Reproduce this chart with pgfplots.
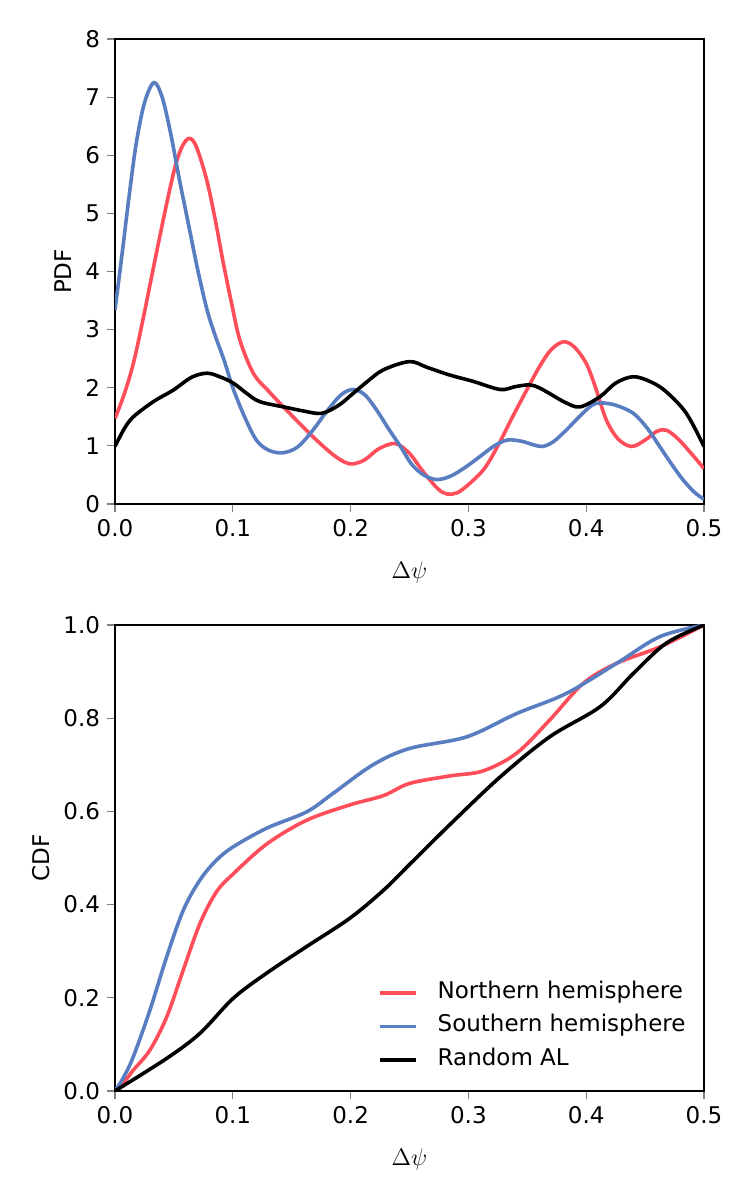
\documentclass[border=0pt]{standalone}
\usepackage{fontspec}
\setmainfont{DejaVu Sans}
\usepackage{pgfplots}
\pgfplotsset{compat=1.18}

\definecolor{nred}{RGB}{255,77,90}
\definecolor{sblue}{RGB}{88,125,192}

\pgfplotsset{
  kde/.style={
    scale only axis,
    width=294.5bp,
    xmin=0, xmax=0.5,
    xtick={0,0.1,0.2,0.3,0.4,0.5},
    xticklabels={0.0,0.1,0.2,0.3,0.4,0.5},
    tick align=outside,
    xtick pos=bottom, ytick pos=left,
    major tick length=4bp,
    major tick style={gray, line width=0.6bp},
    axis line style={black, line width=0.8bp},
    /pgf/number format/assume math mode=true,
    tick label style={font=\fontsize{11.5bp}{13.5bp}\selectfont},
    label style={font=\fontsize{11.5bp}{13.5bp}\selectfont},
    xlabel={$\Delta\psi$},
    xlabel style={font=\fontsize{12.5bp}{14bp}\selectfont, yshift=-6bp},
    every axis plot/.append style={line width=1.8bp, smooth, tension=0.55, mark=none},
  },
}

\begin{document}
\begin{tikzpicture}

% probability density of the phase offset
\begin{axis}[kde,
  at={(57.5bp,348bp)}, anchor=south west,
  height=232.5bp,
  ymin=0, ymax=8,
  ytick={0,1,2,3,4,5,6,7,8},
  ylabel={PDF},
]
\addplot[nred] coordinates {
(0,1.47) (0.008,1.9) (0.0156,2.42) (0.023,3.1) (0.030,3.80) (0.037,4.5)
(0.044,5.18) (0.051,5.8) (0.057,6.15) (0.063,6.29) (0.069,6.15) (0.0778,5.58)
(0.085,4.9) (0.092,4.14) (0.099,3.45) (0.106,2.82) (0.1174,2.25) (0.130,1.95)
(0.143,1.67) (0.157,1.38) (0.171,1.10) (0.185,0.85) (0.195,0.72) (0.202,0.69)
(0.212,0.76) (0.224,0.95) (0.238,1.04) (0.250,0.87) (0.260,0.6) (0.270,0.35)
(0.278,0.2) (0.286,0.17) (0.295,0.25) (0.3126,0.585) (0.325,1.0) (0.3375,1.5)
(0.3495,1.96) (0.360,2.35) (0.370,2.65) (0.3806,2.79) (0.390,2.7) (0.400,2.42)
(0.408,2.0) (0.417,1.45) (0.427,1.12) (0.4386,0.99) (0.450,1.1) (0.460,1.25)
(0.468,1.27) (0.478,1.12) (0.490,0.85) (0.500,0.61)
};
\addplot[sblue] coordinates {
(0,3.34) (0.006,4.3) (0.012,5.3) (0.018,6.2) (0.025,6.9) (0.033,7.25)
(0.040,7.0) (0.047,6.4) (0.055,5.55) (0.063,4.75) (0.070,4.05) (0.078,3.35)
(0.085,2.9) (0.093,2.45) (0.100,2.0) (0.110,1.5) (0.120,1.1) (0.130,0.93)
(0.142,0.88) (0.155,0.98) (0.168,1.27) (0.180,1.6) (0.192,1.88) (0.202,1.97)
(0.212,1.88) (0.222,1.62) (0.232,1.3) (0.242,1.0) (0.252,0.68) (0.262,0.5)
(0.273,0.42) (0.285,0.48) (0.298,0.64) (0.310,0.82) (0.322,1.0) (0.333,1.1)
(0.345,1.08) (0.355,1.02) (0.363,0.99) (0.372,1.07) (0.383,1.27) (0.395,1.52)
(0.405,1.70) (0.412,1.74) (0.425,1.70) (0.440,1.56) (0.452,1.30) (0.462,1.0)
(0.472,0.7) (0.482,0.42) (0.492,0.2) (0.500,0.08)
};
\addplot[black] coordinates {
(0,0.99) (0.008,1.3) (0.0156,1.50) (0.0325,1.76) (0.0495,1.96) (0.065,2.18)
(0.0784,2.25) (0.090,2.18) (0.1004,2.08) (0.112,1.9) (0.123,1.76) (0.1457,1.66)
(0.160,1.6) (0.1755,1.56) (0.190,1.7) (0.202,1.90) (0.215,2.12) (0.228,2.31)
(0.250,2.45) (0.265,2.35) (0.284,2.22) (0.304,2.11) (0.327,1.97) (0.340,2.02)
(0.352,2.05) (0.360,2.0) (0.369,1.90) (0.382,1.75) (0.3947,1.67) (0.412,1.85)
(0.425,2.08) (0.440,2.19) (0.455,2.1) (0.468,1.93) (0.485,1.56) (0.500,0.99)
};
\end{axis}

% cumulative distribution of the phase offset
\begin{axis}[kde,
  at={(57.5bp,54.5bp)}, anchor=south west,
  height=233bp,
  ymin=0, ymax=1,
  ytick={0,0.2,0.4,0.6,0.8,1.0},
  yticklabels={0.0,0.2,0.4,0.6,0.8,1.0},
  ylabel={CDF},
  legend cell align=left,
  legend image code/.code={\draw[#1] (0bp,0bp) -- (18bp,0bp);},
  legend style={draw=none, fill=none, inner sep=0pt,
    at={(rel axis cs:0.446,0.234)}, anchor=north west,
    font=\fontsize{11.5bp}{13.5bp}\selectfont,
    nodes={inner sep=0pt, text height=8bp, text depth=2.5bp},
    row sep=6.25bp, column sep=10bp},
]
\addplot[nred] coordinates {
(0,0) (0.008,0.02) (0.0156,0.045) (0.0297,0.088) (0.0439,0.159) (0.058,0.26)
(0.0722,0.36) (0.0863,0.428) (0.1004,0.466) (0.1288,0.53) (0.1627,0.581)
(0.1995,0.614) (0.228,0.634) (0.250,0.66) (0.284,0.676) (0.3126,0.687)
(0.341,0.725) (0.369,0.796) (0.3976,0.875) (0.426,0.918) (0.4626,0.953) (0.5,1.0)
};
\addplot[sblue] coordinates {
(0,0) (0.007,0.028) (0.0156,0.074) (0.0297,0.174) (0.0439,0.288) (0.058,0.388)
(0.0722,0.453) (0.086,0.495) (0.1004,0.524) (0.1288,0.564) (0.1627,0.599)
(0.1853,0.639) (0.219,0.70) (0.250,0.735) (0.2985,0.760) (0.341,0.81)
(0.383,0.853) (0.426,0.918) (0.4626,0.975) (0.5,1.0)
};
\addplot[black] coordinates {
(0,0) (0.0439,0.07) (0.0722,0.124) (0.1004,0.199) (0.1288,0.253) (0.1627,0.31)
(0.1995,0.371) (0.228,0.431) (0.250,0.486) (0.284,0.571) (0.327,0.674)
(0.369,0.760) (0.412,0.825) (0.44,0.896) (0.468,0.961) (0.5,1.0)
};
\legend{Northern hemisphere, Southern hemisphere, Random AL}
\end{axis}

\pgfresetboundingbox
\useasboundingbox (0,0) rectangle (375bp,600bp);
\end{tikzpicture}
\end{document}
